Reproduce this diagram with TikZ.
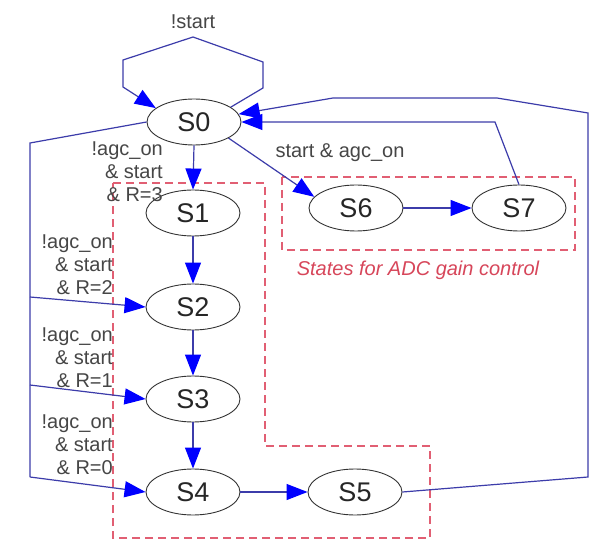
\documentclass[tikz,border=0pt]{standalone}
\usepackage{fontspec}
\setmainfont{Liberation Sans}
\usetikzlibrary{shapes.geometric,arrows.meta}
\definecolor{edgeblue}{RGB}{60,60,170}
\definecolor{tipblue}{RGB}{0,0,255}
\definecolor{boxred}{RGB}{225,95,115}
\definecolor{labelgray}{RGB}{70,70,70}
\definecolor{notered}{RGB}{215,70,90}
\begin{document}
\begin{tikzpicture}[x=1pt,y=-1pt,
  state/.style={ellipse,draw=black!80,line width=0.9pt,minimum width=94pt,minimum height=46pt,inner sep=0pt,font=\fontsize{27}{29}\selectfont,text=black!85},
  trans/.style={draw=edgeblue,line width=1.2pt,-{Triangle[length=21pt,width=16pt,tipblue]}},
  plainedge/.style={draw=edgeblue,line width=1.2pt},
  lbl/.style={font=\fontsize{20}{23}\selectfont,text=labelgray,inner sep=0pt},
  groupbox/.style={draw=boxred,line width=1.1pt,dash pattern=on 8pt off 5pt}]
\useasboundingbox (0,0) rectangle (597,545);
\fill[white] (0,0) rectangle (597,545);

% group boxes
\draw[groupbox] (282,177) rectangle (575,250);
\draw[groupbox] (113,183) -- (265,183) -- (265,446) -- (430,446) -- (430,538) -- (113,538) -- cycle;
\node[lbl,text=notered,font=\fontsize{20}{23}\selectfont\itshape] (note) at (418,270) {States for ADC gain control};

% states
\node[state] (S0) at (194,122) {S0};
\node[state] (S1) at (193,213) {S1};
\node[state] (S2) at (193,307) {S2};
\node[state] (S3) at (193,399) {S3};
\node[state] (S4) at (193,492) {S4};
\node[state] (S5) at (355,492) {S5};
\node[state] (S6) at (356,208) {S6};
\node[state] (S7) at (519,208) {S7};

% coordinates
\coordinate (l0) at (30,143);
\coordinate (l2) at (30,297);
\coordinate (l3) at (30,385);
\coordinate (l4) at (30,477);
\coordinate (r1) at (588,477);
\coordinate (r2) at (588,113);
\coordinate (r3) at (497,98);
\coordinate (r4) at (333,98);
\coordinate (k1) at (495,122);
\coordinate (p1) at (263,88);
\coordinate (p2) at (263,62);
\coordinate (p3) at (193,37);
\coordinate (p4) at (123,60);
\coordinate (p5) at (123,87);

% self loop
\draw[trans] (S0.22) -- (p1) -- (p2) -- (p3) -- (p4) -- (p5) -- (S0.160);
\node[lbl] (ls) at (193,22) {!start};

% chain
\draw[trans] (S0.south) -- (S1.north);
\draw[trans] (S1.south) -- (S2.north);
\draw[trans] (S2.south) -- (S3.north);
\draw[trans] (S3.south) -- (S4.north);
\draw[trans] (S4.east) -- (S5.west);
\draw[trans] (S6.east) -- (S7.west);
\draw[trans] (S0.-25) -- (S6.165);
\node[lbl] (lsa) at (340,153) {start \& agc\_on};

% returns
\draw[trans] (S7.north) -- (k1) -- (S0.east);
\draw[trans] (S5.east) -- (r1) -- (r2) -- (r3) -- (r4) -- (S0.10);

% left bus
\draw[plainedge] (S0.west) -- (l0) -- (l4);
\draw[trans] (l2) -- (S2.west);
\draw[trans] (l3) -- (S3.west);
\draw[trans] (l4) -- (S4.west);

% labels
\node[lbl,align=right,anchor=east] (lr3) at (163,172) {!agc\_on\\\& start\\\& R=3};
\node[lbl,align=right,anchor=east] (lr2) at (113,265) {!agc\_on\\\& start\\\& R=2};
\node[lbl,align=right,anchor=east] (lr1) at (113,358) {!agc\_on\\\& start\\\& R=1};
\node[lbl,align=right,anchor=east] (lr0) at (113,445) {!agc\_on\\\& start\\\& R=0};
\end{tikzpicture}
\end{document}
